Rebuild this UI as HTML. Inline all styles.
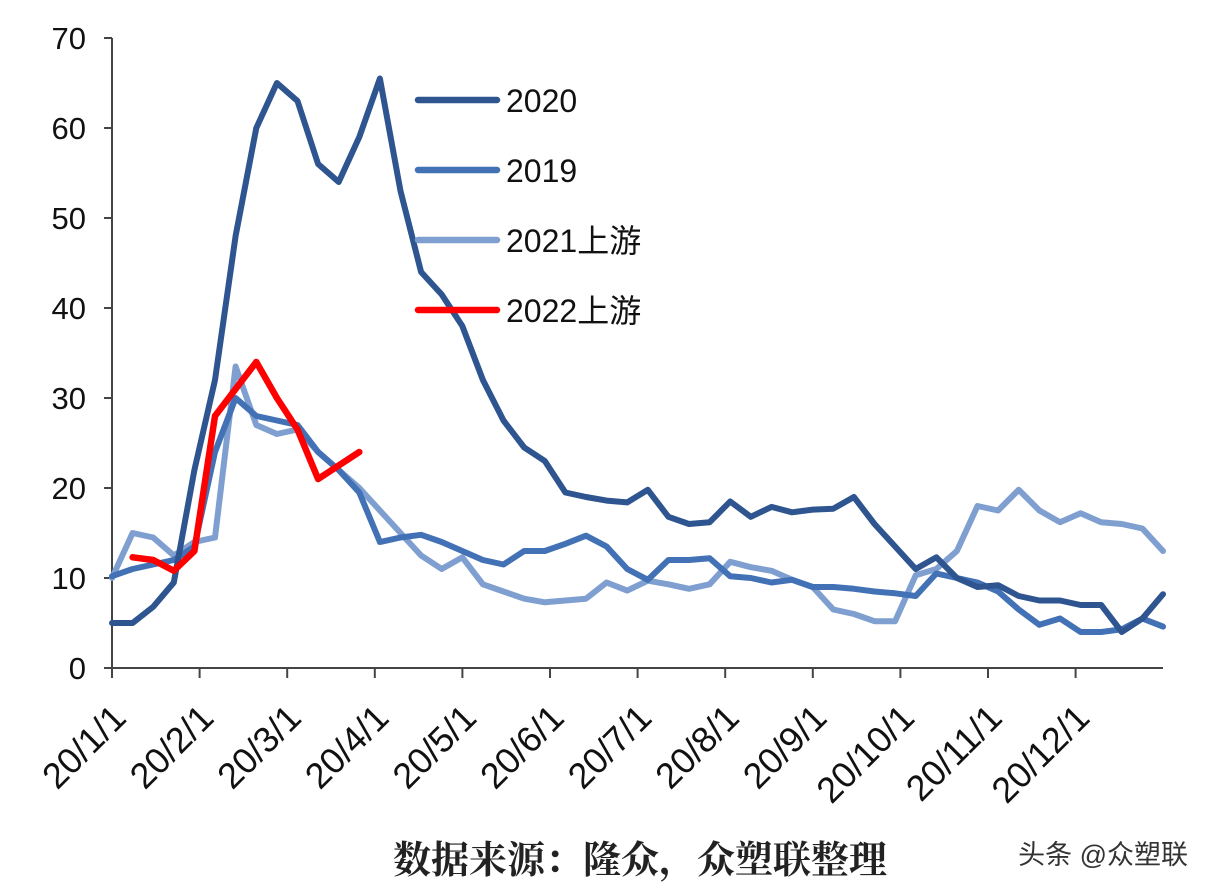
<!DOCTYPE html>
<html><head><meta charset="utf-8"><style>
html,body{margin:0;padding:0;background:#fff;overflow:hidden;}
svg{display:block;}
svg text{font-family:"Liberation Sans","Noto Sans CJK SC",sans-serif;}
</style></head><body>
<svg id="chart" width="1214" height="894" xmlns="http://www.w3.org/2000/svg">
<g id="axes"></g><g id="series"></g><g id="legend"></g>
<text x="640" y="873" text-anchor="middle" font-size="38" font-weight="bold" style="font-family:'Liberation Serif','Noto Serif CJK SC',serif" fill="#222">数据来源：隆众，众塑联整理</text>
<text x="1188" y="864" text-anchor="end" font-size="27" fill="#333">头条 @众塑联</text>
</svg>
<script>
const months=["20/1/1","20/2/1","20/3/1","20/4/1","20/5/1","20/6/1","20/7/1","20/8/1","20/9/1","20/10/1","20/11/1","20/12/1"];
const yTicks=[0,10,20,30,40,50,60,70];
const s2020=[5,5,6.8,9.5,22,32,48,60,65,63,56,54,59,65.5,53,44,41.5,38,32,27.5,24.5,23,19.5,19,18.6,18.4,19.8,16.8,16,16.2,18.5,16.8,17.9,17.3,17.6,17.7,19,16,13.5,11,12.3,10,9,9.2,8,7.5,7.5,7,7,4,5.5,8.2];
const s2019=[10.2,11,11.5,12,13.5,24,30,28,27.5,27,24,22,19.5,14,14.5,14.8,14,13,12,11.5,13,13,13.8,14.7,13.5,11,9.8,12,12,12.2,10.2,10,9.5,9.8,9,9,8.8,8.5,8.3,8,10.5,10,9.5,8.5,6.5,4.8,5.5,4,4,4.3,5.5,4.6];
const s2021=[10,15,14.5,12.5,14,14.5,33.5,27,26,26.5,24,22,20,17.5,15,12.5,11,12.3,9.3,8.5,7.7,7.3,7.5,7.7,9.5,8.6,9.7,9.3,8.8,9.3,11.8,11.2,10.8,9.8,9,6.5,6,5.2,5.2,10.3,11,13,18,17.5,19.8,17.5,16.2,17.2,16.2,16,15.5,13];
const s2022=[null,12.3,12,10.8,13,28,31,34,30,26.5,21,22.5,24];
const NS="http://www.w3.org/2000/svg";
const X0=112,X1=1163,Y0=668,Y70=38;
const xIdx=i=>X0+i*(X1-X0)/51;
const xMonth=i=>X0+i*87.6;
const y=v=>Y0-(v/70)*(Y0-Y70);
function mk(tag,attrs,parent){const e=document.createElementNS(NS,tag);for(const k in attrs)e.setAttribute(k,attrs[k]);parent.appendChild(e);return e;}
const axes=document.getElementById('axes');
let a=mk('line',{x1:X0,y1:Y70,x2:X0,y2:Y0,stroke:'#444','stroke-width':2},axes);


a=mk('line',{x1:X0,y1:Y0,x2:X1,y2:Y0,stroke:'#444','stroke-width':2},axes);


yTicks.forEach(v=>{
 mk('line',{x1:X0-8,y1:y(v),x2:X0,y2:y(v),stroke:'#444','stroke-width':2},axes);
 const t=mk('text',{x:86,y:y(v)+11,'text-anchor':'end','font-size':31,fill:'#111'},axes);
 t.textContent=v;
 
 
});
months.forEach((m,i)=>{
 const x=xMonth(i);
 mk('line',{x1:x,y1:Y0,x2:x,y2:Y0+10,stroke:'#444','stroke-width':2},axes);
 const ax=x+16,ay=Y0+52;
 const t=mk('text',{x:0,y:0,'text-anchor':'end','font-size':36,fill:'#111',transform:`translate(${ax} ${ay}) rotate(-45)`},axes);
 t.textContent=m;
 
 
});
const series=[["2020",s2020,"#2e5590"],["2019",s2019,"#4272b5"],["2021上游",s2021,"#7f9fd0"],["2022上游",s2022,"#ff0000"]];
const sg=document.getElementById('series');
[2,1,0,3].forEach(k=>{
 const [name,data,col]=series[k];
 let d="";data.forEach((v,i)=>{if(v==null)return;d+=(d?"L":"M")+xIdx(i).toFixed(1)+" "+y(v).toFixed(1);});
 const p=mk('path',{d:d,fill:'none',stroke:col,'stroke-width':k==3?6.5:6,'stroke-linejoin':'round','stroke-linecap':'round'},sg);
 
 
});
const lg=document.getElementById('legend');
series.forEach(([name,data,col],k)=>{
 const ly=100+k*70;
 const l=mk('line',{x1:418,y1:ly,x2:497,y2:ly,stroke:col,'stroke-width':6.5,'stroke-linecap':'round'},lg);
 
 
 const t=mk('text',{x:506,y:ly+12,'font-size':32,fill:'#111'},lg);
 t.textContent=name;
 
 
});
</script>
</body></html>
